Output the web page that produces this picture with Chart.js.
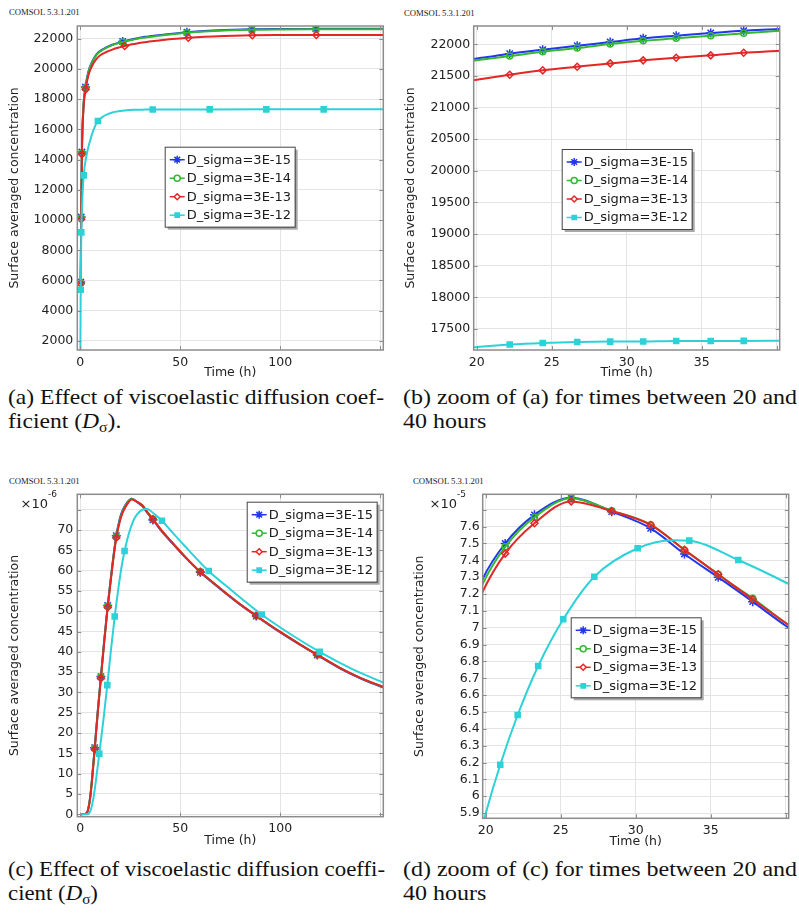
<!DOCTYPE html>
<html>
<head>
<meta charset="utf-8">
<script src="https://cdn.jsdelivr.net/npm/chart.js@4.4.0/dist/chart.umd.min.js"></script>
<style>
  body { margin: 0; background: #fff; width: 799px; height: 916px; position: relative; overflow: hidden; }
  canvas { position: absolute; }
  .stamp { position: absolute; font: 8.7px "Liberation Serif", serif; color: #222; white-space: nowrap; }
  .cap { position: absolute; font: 21px "Liberation Serif", serif; line-height: 24px; color: #111; }
  .cap span { display: inline-block; white-space: nowrap; transform-origin: 0 0; }
  .cap sub { font-size: 14px; line-height: 0; vertical-align: -4px; }
</style>
</head>
<body>
<div class="stamp" style="left:9px;top:7px">COMSOL 5.3.1.201</div>
<div class="stamp" style="left:404px;top:8px">COMSOL 5.3.1.201</div>
<div class="stamp" style="left:9px;top:476px">COMSOL 5.3.1.201</div>
<div class="stamp" style="left:413px;top:476px">COMSOL 5.3.1.201</div>

<canvas id="chartA" width="400" height="385" style="left:0;top:0"></canvas>
<canvas id="chartB" width="399" height="385" style="left:400px;top:0"></canvas>
<canvas id="chartC" width="400" height="395" style="left:0;top:460px"></canvas>
<canvas id="chartD" width="399" height="395" style="left:400px;top:460px"></canvas>

<div class="cap" style="left:8px;top:385px" data-w="376"><span>(a) Effect of viscoelastic diffusion coef-</span><br><span>ficient (<i>D</i><sub>σ</sub>).</span></div>
<div class="cap" style="left:403px;top:385px" data-w="394"><span>(b) zoom of (a) for times between 20 and</span><br><span>40 hours</span></div>
<div class="cap" style="left:8px;top:857px" data-w="377"><span>(c) Effect of viscoelastic diffusion coeffi-</span><br><span>cient (<i>D</i><sub>σ</sub>)</span></div>
<div class="cap" style="left:403px;top:857px" data-w="394"><span>(d) zoom of (c) for times between 20 and</span><br><span>40 hours</span></div>

<script>
// series names
const seriesLabels = ['D_sigma=3E-15', 'D_sigma=3E-14', 'D_sigma=3E-13', 'D_sigma=3E-12'];

// top row: surface averaged concentration vs time (h)
const timeA15 = [0.2, 0.45, 0.8, 1.5, 2.6, 4, 6, 8, 10, 13, 16, 20, 21.2, 22.2, 24.4, 26.7, 28.9, 31.1, 33.3, 35.6, 37.8, 40.2, 46, 53.3, 62, 72, 85.8, 100, 117.8, 135, 151.5];
const concA15 = [5900, 10200, 14500, 17400, 18800, 19800, 20500, 20950, 21200, 21420, 21600, 21775, 21815, 21851, 21915, 21978, 22036, 22095, 22136, 22179, 22215, 22242, 22330, 22424, 22510, 22570, 22620, 22640, 22650, 22655, 22658];
const concA14 = [5850, 10150, 14450, 17350, 18750, 19760, 20460, 20910, 21160, 21390, 21570, 21750, 21785, 21815, 21883, 21941, 22005, 22057, 22095, 22136, 22174, 22215, 22300, 22395, 22480, 22545, 22595, 22615, 22625, 22630, 22632];
const timeA13 = [0.2, 0.45, 0.8, 1.5, 2.7, 4, 6, 8, 10, 13, 16, 20, 22.2, 24.4, 26.7, 28.9, 31.1, 33.3, 35.6, 37.8, 40.2, 46, 54, 62, 72, 86, 100, 118, 135, 151.5];
const concA13 = [5800, 10050, 14350, 17150, 18650, 19550, 20230, 20650, 20900, 21120, 21280, 21440, 21519, 21589, 21646, 21699, 21747, 21788, 21826, 21867, 21899, 21980, 22066, 22130, 22180, 22225, 22240, 22248, 22250, 22252];
const timeA12 = [0, 0.2, 0.5, 1, 1.7, 3.3, 5, 6.7, 8.8, 12, 16, 20, 22.2, 24.4, 26.7, 28.9, 31.1, 33.3, 35.6, 36.2, 37.8, 40.2, 50, 64.7, 93, 121.7, 151.5];
const concA12 = [0, 5384, 9183, 11300, 12957, 14400, 15300, 16000, 16552, 16900, 17115, 17215, 17254, 17279, 17295, 17301, 17303, 17311, 17311, 17312, 17312, 17313, 17318, 17322, 17324, 17325, 17325];

// bottom row: values in units of 1e-6
const timeC = [0, 2.5, 3.7, 5, 6, 7.2, 8.7, 10.3, 12, 13.7, 16, 18, 19.8, 21.3, 23.25, 25.7, 28.4, 31.0, 33.25, 35.5, 36.3, 37.8, 40.1, 45, 52, 60, 70, 80, 88, 100, 110, 118.5, 130, 140, 151.5];
const concC15 = [0, 0.1, 0.8, 4.5, 9.5, 16.4, 25.2, 33.9, 43, 51.4, 61.3, 68.6, 72.9, 75.0, 76.7, 77.72, 76.89, 75.9, 74.38, 72.99, 72.5, 71.55, 70.06, 67.3, 63.5, 59.6, 55.5, 51.6, 48.8, 44.8, 41.7, 39.2, 35.9, 33.5, 31.2];
const concC14 = [0, 0.1, 0.8, 4.4, 9.4, 16.3, 25.1, 33.8, 42.9, 51.3, 61.1, 68.4, 72.6, 74.8, 76.56, 77.68, 76.95, 76.12, 74.62, 73.17, 72.65, 71.75, 70.22, 67.45, 63.65, 59.7, 55.6, 51.7, 48.9, 44.9, 41.8, 39.3, 36.0, 33.6, 31.3];
const concC13 = [0, 0.1, 0.7, 4.2, 9.1, 16.0, 24.8, 33.5, 42.6, 51.0, 60.8, 68.1, 72.14, 74.4, 76.2, 77.5, 76.92, 76.1, 74.62, 73.17, 72.65, 71.69, 70.22, 67.45, 63.65, 59.7, 55.6, 51.7, 48.9, 44.9, 41.8, 39.3, 36.0, 33.6, 31.4];
const timeC12 = [0, 3, 5, 6.5, 8, 9.5, 11.5, 13.5, 15.3, 17.2, 19, 20, 20.97, 22.13, 23.5, 25.17, 27.24, 30.13, 32.5, 33.57, 36.84, 40.1, 40.8, 45, 52, 64.2, 75, 90.7, 105, 119.7, 135, 151.5];
const concC12 = [0, 0, 0.8, 3.8, 9.0, 14.9, 23.0, 31.8, 40.3, 48.7, 55.5, 58.98, 61.87, 64.82, 67.73, 70.5, 73.03, 74.72, 75.2, 75.17, 74.02, 72.64, 72.3, 70.0, 66.2, 59.9, 55.4, 49.2, 44.4, 40.0, 36.0, 32.4];

// times carrying a marker, per panel and series
const marksA = [
  [0.2, 0.45, 0.8, 2.6, 21.2, 53.3, 85.8, 117.8],
  [0.2, 0.45, 0.8, 2.6, 21.2, 53.3, 85.8, 117.8],
  [0.2, 0.45, 0.8, 2.7, 22.2, 54, 86, 118],
  [0.2, 0.5, 1.7, 8.8, 36.2, 64.7, 93, 121.7]
];
const marksZoomTop = [22.2, 24.4, 26.7, 28.9, 31.1, 33.3, 35.6, 37.8];
const marksC = [7.2, 10.3, 13.7, 18, 36.3, 60, 88, 118.5];
const marksC12 = [9.5, 13.5, 17.2, 22.13, 40.8, 64.2, 90.7, 119.7];
const marksD = [21.3, 23.25, 25.7, 28.4, 31.0, 33.25, 35.5, 37.8];
const marksD12 = [20.97, 22.13, 23.5, 25.17, 27.24, 30.13, 33.57, 36.84];

// axis ticks
const timeTicksFull = [0, 50, 100, 150];
const timeTicksZoom = [20, 25, 30, 35, 40];
const concTicksA = [2000, 4000, 6000, 8000, 10000, 12000, 14000, 16000, 18000, 20000, 22000];
const concTicksB = [17500, 18000, 18500, 19000, 19500, 20000, 20500, 21000, 21500, 22000];
const concTicksC = [0, 5, 10, 15, 20, 25, 30, 35, 40, 45, 50, 55, 60, 65, 70, 75];
const concTicksD = [59, 60, 61, 62, 63, 64, 65, 66, 67, 68, 69, 70, 71, 72, 73, 74, 75, 76, 77];

// look of the four series
const lineColors = ['#2236ee', '#33b833', '#e32626', '#2cd2d8'];
const markerStyles = ['star', 'circle', 'rectRot', 'rect'];
const markerSizes = [4.5, 3, 3.5, 3.6];

Chart.defaults.font.family = '"DejaVu Sans", sans-serif';
Chart.defaults.color = '#222';

function curve(ts, vs) {
  return ts.map((t, i) => ({x: t, y: vs[i]}));
}

function drawMarker(ctx, style, x, y, r) {
  ctx.beginPath();
  if (style === 'star') {
    for (let k = 0; k < 4; k++) {
      const a = k * Math.PI / 4;
      ctx.moveTo(x - Math.cos(a) * r, y - Math.sin(a) * r);
      ctx.lineTo(x + Math.cos(a) * r, y + Math.sin(a) * r);
    }
    ctx.stroke();
    return;
  }
  if (style === 'circle') {
    ctx.arc(x, y, r, 0, 2 * Math.PI);
  } else if (style === 'rectRot') {
    ctx.moveTo(x, y - r); ctx.lineTo(x + r, y); ctx.lineTo(x, y + r); ctx.lineTo(x - r, y); ctx.closePath();
  } else {
    const s = r * Math.SQRT1_2;
    ctx.rect(x - s, y - s, 2 * s, 2 * s);
  }
  ctx.fill();
  ctx.stroke();
}

// frame with inward ticks, power-of-ten label and boxed legend
const comsolFrame = {
  id: 'comsolFrame',
  afterDraw(chart, args, opts) {
    const {ctx, chartArea: a} = chart;
    const x = chart.scales.x, y = chart.scales.y;
    ctx.save();
    ctx.strokeStyle = '#8c8c8c';
    ctx.lineWidth = 1;
    ctx.beginPath();
    x.ticks.forEach(t => {
      const p = Math.round(x.getPixelForValue(t.value)) + 0.5;
      ctx.moveTo(p, a.bottom); ctx.lineTo(p, a.bottom - 4);
      ctx.moveTo(p, a.top); ctx.lineTo(p, a.top + 4);
    });
    y.ticks.forEach(t => {
      const p = Math.round(y.getPixelForValue(t.value)) + 0.5;
      ctx.moveTo(a.left, p); ctx.lineTo(a.left + 4, p);
      ctx.moveTo(a.right, p); ctx.lineTo(a.right - 4, p);
    });
    ctx.stroke();
    ctx.lineWidth = 1.5;
    ctx.strokeRect(a.left, a.top, a.right - a.left, a.bottom - a.top);

    if (opts.exponent) {
      ctx.fillStyle = '#222';
      ctx.textBaseline = 'alphabetic';
      ctx.font = '9px "DejaVu Sans"';
      const supW = ctx.measureText(opts.exponent).width;
      ctx.fillText(opts.exponent, opts.expRight - supW, opts.expY - 6);
      ctx.font = '13px "DejaVu Sans"';
      const baseW = ctx.measureText('×10').width;
      ctx.fillText('×10', opts.expRight - supW - baseW, opts.expY + 4.5);
    }

    if (opts.legend) {
      const lx = opts.legend[0], ly = opts.legend[1], w = 130, h = 80;
      ctx.fillStyle = '#a8a8a8';
      ctx.fillRect(lx + 3, ly + 3, w, h);
      ctx.fillStyle = '#fff';
      ctx.fillRect(lx, ly, w, h);
      ctx.strokeStyle = '#444';
      ctx.lineWidth = 1;
      ctx.strokeRect(lx + 0.5, ly + 0.5, w, h);
      ctx.font = '13px "DejaVu Sans"';
      ctx.textBaseline = 'middle';
      seriesLabels.forEach((lab, i) => {
        const ry = ly + 13 + i * 18.5;
        ctx.strokeStyle = lineColors[i];
        ctx.lineWidth = 1.5;
        ctx.beginPath();
        ctx.moveTo(lx + 5, ry); ctx.lineTo(lx + 20, ry);
        ctx.stroke();
        ctx.fillStyle = i === 3 ? lineColors[i] : '#fff';
        drawMarker(ctx, markerStyles[i], lx + 12.5, ry, i === 0 ? 4 : 3);
        ctx.fillStyle = '#1a1a1a';
        ctx.fillText(lab, lx + 22, ry + 0.5);
      });
    }
    ctx.restore();
  }
};

function panel(id, o) {
  const datasets = o.series.map((s, i) => ({
    label: seriesLabels[i],
    data: curve(s[0], s[1]),
    borderColor: lineColors[i],
    backgroundColor: lineColors[i],
    borderWidth: 2,
    cubicInterpolationMode: 'monotone',
    pointStyle: markerStyles[i],
    pointRadius: c => (c.raw && o.marks[i].includes(c.raw.x)) ? markerSizes[i] : 0,
    pointBorderWidth: 1.5,
    pointBorderColor: lineColors[i],
    pointBackgroundColor: i === 3 ? lineColors[i] : 'rgba(255,255,255,0)',
    order: 3 - i
  }));

  return new Chart(document.getElementById(id), {
    type: 'line',
    data: {datasets},
    plugins: [comsolFrame],
    options: {
      responsive: false,
      animation: false,
      events: [],
      layout: {padding: o.pad},
      plugins: {
        legend: {display: false},
        tooltip: {enabled: false},
        comsolFrame: o.frame
      },
      scales: {
        x: {
          type: 'linear',
          min: o.xRange[0], max: o.xRange[1],
          afterBuildTicks: s => { s.ticks = o.xTicks.map(v => ({value: v})); },
          afterFit: s => { s.height = o.xAxisH; },
          grid: {color: '#e4e4e4', drawTicks: false},
          border: {display: false},
          ticks: {
            padding: 5, autoSkip: false, maxRotation: 0,
            font: {size: 12.5},
            callback: v => o.xHidden.includes(v) ? '' : String(v)
          },
          title: {display: true, text: 'Time (h)', font: {size: 12.5}, padding: {top: 0, bottom: o.xTitlePad}}
        },
        y: {
          type: 'linear',
          min: o.yRange[0], max: o.yRange[1],
          afterBuildTicks: s => { s.ticks = o.yTicks.map(v => ({value: v})); },
          afterFit: s => { s.width = o.yAxisW; },
          grid: {color: '#e4e4e4', drawTicks: false},
          border: {display: false},
          ticks: {
            padding: o.yTickPad, autoSkip: false,
            font: {size: 12.5},
            callback: v => o.yHidden.includes(v) ? '' : o.yFormat(v)
          },
          title: {display: true, text: 'Surface averaged concentration', font: {size: 12.5}, padding: {top: o.yTitlePad, bottom: 0}}
        }
      }
    }
  });
}

const topSeries = [[timeA15, concA15], [timeA15, concA14], [timeA13, concA13], [timeA12, concA12]];
const bottomSeries = [[timeC, concC15], [timeC, concC14], [timeC, concC13], [timeC12, concC12]];

panel('chartA', {
  series: topSeries, marks: marksA,
  xRange: [-1.5, 151.5], yRange: [1400, 22840],
  xTicks: timeTicksFull, xHidden: [150], yTicks: concTicksA, yHidden: [],
  yFormat: v => String(v),
  pad: {left: 0, top: 26, right: 16.7, bottom: 0},
  yAxisW: 77.3, xAxisH: 35, yTickPad: 4, xTitlePad: 4.5, yTitlePad: 7.5,
  frame: {legend: [164.7, 146.7]}
});

panel('chartB', {
  series: topSeries, marks: [marksZoomTop, marksZoomTop, marksZoomTop, marksZoomTop],
  xRange: [19.8, 40.2], yRange: [17168, 22290],
  xTicks: timeTicksZoom, xHidden: [40], yTicks: concTicksB, yHidden: [],
  yFormat: v => String(v),
  pad: {left: 0, top: 26, right: 19.3, bottom: 0},
  yAxisW: 73.7, xAxisH: 35, yTickPad: 3.5, xTitlePad: 4.5, yTitlePad: 3.2,
  frame: {legend: [161.7, 149]}
});

panel('chartC', {
  series: bottomSeries, marks: [marksC, marksC, marksC, marksC12],
  xRange: [-1.5, 151.5], yRange: [-0.6, 78.8],
  xTicks: timeTicksFull, xHidden: [150], yTicks: concTicksC, yHidden: [75],
  yFormat: v => String(v),
  pad: {left: 0, top: 34.3, right: 16.7, bottom: 0},
  yAxisW: 77.3, xAxisH: 38.3, yTickPad: 4, xTitlePad: 6.5, yTitlePad: 7.5,
  frame: {legend: [246.7, 41.7], exponent: '-6', expRight: 57, expY: 43.3}
});

panel('chartD', {
  series: bottomSeries, marks: [marksD, marksD, marksD, marksD12],
  xRange: [19.8, 40.2], yRange: [58.69, 77.92],
  xTicks: timeTicksZoom, xHidden: [40], yTicks: concTicksD, yHidden: [77],
  yFormat: v => String(Number((v / 10).toFixed(1))),
  pad: {left: 0, top: 34.3, right: 10.3, bottom: 0},
  yAxisW: 82.7, xAxisH: 36.7, yTickPad: 3, xTitlePad: 5.5, yTitlePad: 12.5,
  frame: {legend: [170.7, 157.3], exponent: '-5', expRight: 66, expY: 43.3}
});

// stretch each caption so its first line fills the column width
document.querySelectorAll('.cap').forEach(cap => {
  const lines = cap.querySelectorAll('span');
  const k = cap.dataset.w / lines[0].getBoundingClientRect().width;
  lines.forEach(l => { l.style.transform = 'scaleX(' + k + ')'; });
});
</script>
</body>
</html>
